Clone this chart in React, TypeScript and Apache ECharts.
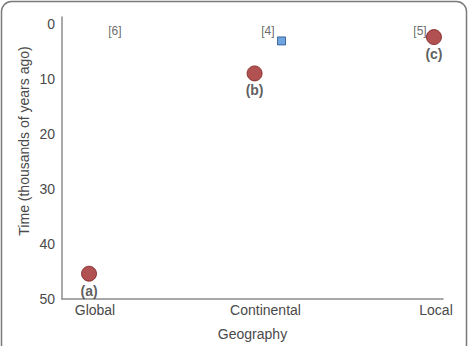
import React, { useEffect, useRef } from 'react';
import * as echarts from 'echarts';

const categories = ['Global', 'Continental', 'Local'];
const categoryPos = [1, 2, 3];
const yTicks = [0, 10, 20, 30, 40, 50];
const pointLabels = ['(a)', '(b)', '(c)'];
const pointX = [0.965, 1.936, 2.988];
const pointTime = [45.4, 9.0, 2.4];
const squareX = [2.094];
const squareTime = [3.1];
const refLabels = ['[6]', '[4]', '[5]'];
const refX = [1.117, 2.014, 2.906];
const refTime = [1.3, 1.3, 1.3];

const FONT = '"Liberation Sans", Arial, Helvetica, sans-serif';
const TEXT = '#4a4a4a';

export default function App() {
  const ref = useRef<HTMLDivElement>(null);
  useEffect(() => {
    if (!ref.current) return;
    const chart = echarts.init(ref.current, undefined, { renderer: 'svg' });
    chart.setOption({
      animation: false,
      textStyle: { fontFamily: FONT },
      grid: { left: 62, right: 26, top: 17, bottom: 44 },
      xAxis: {
        type: 'value',
        min: 0.8065,
        max: 3.041,
        name: 'Geography',
        nameLocation: 'middle',
        nameGap: 28,
        nameTextStyle: { color: TEXT, fontSize: 14, fontFamily: FONT },
        axisLine: { show: true, onZero: false, lineStyle: { color: '#8c8c8c', width: 1.5 } },
        axisTick: { show: false },
        splitLine: { show: false },
        axisLabel: {
          customValues: categoryPos,
          color: TEXT,
          fontSize: 14,
          margin: 4,
          formatter: (v: number) => categories[categoryPos.indexOf(Math.round(v))] ?? '',
        },
      },
      yAxis: {
        type: 'value',
        inverse: true,
        min: -1.25,
        max: 50,
        axisLine: { show: true, onZero: false, lineStyle: { color: '#8c8c8c', width: 1.5 } },
        axisTick: { show: false },
        splitLine: { show: false },
        axisLabel: {
          customValues: yTicks,
          color: TEXT,
          fontSize: 14,
          margin: 7,
        },
      },
      graphic: [
        {
          type: 'rect',
          shape: { x: 1.5, y: 1.5, width: 465, height: 380, r: 10 },
          style: { fill: 'none', stroke: '#7a7a7a', lineWidth: 1.5 },
          silent: true,
        },
        {
          type: 'text',
          x: 24,
          y: 141,
          rotation: Math.PI / 2,
          style: {
            text: 'Time (thousands of years ago)',
            fontSize: 14,
            fontFamily: FONT,
            fill: TEXT,
            align: 'center',
            verticalAlign: 'middle',
          },
        },
      ],
      series: [
        {
          type: 'scatter',
          symbol: 'circle',
          symbolSize: 15,
          itemStyle: { color: '#9f2526', borderColor: '#7a1c1c', borderWidth: 1 },
          label: {
            show: true,
            position: 'bottom',
            distance: 2,
            color: '#333',
            fontSize: 14,
            fontWeight: 'bold',
            fontFamily: FONT,
            formatter: (p: any) => pointLabels[p.dataIndex],
          },
          data: pointX.map((x, i) => [x, pointTime[i]]),
        },
        {
          type: 'scatter',
          symbol: 'rect',
          symbolSize: 8,
          itemStyle: { color: '#4b8fd8', borderColor: '#1f4f8a', borderWidth: 1 },
          data: squareX.map((x, i) => [x, squareTime[i]]),
        },
        {
          type: 'scatter',
          symbolSize: 1,
          itemStyle: { color: 'rgba(0,0,0,0)' },
          label: {
            show: true,
            position: 'inside',
            color: '#444',
            fontSize: 12,
            fontFamily: FONT,
            formatter: (p: any) => refLabels[p.dataIndex],
          },
          data: refX.map((x, i) => [x, refTime[i]]),
        },
      ],
    });
    return () => chart.dispose();
  }, []);
  return (
    <div
      ref={ref}
      style={{ position: 'fixed', left: 0, top: 0, width: 469, height: 346, background: '#fff' }}
    />
  );
}
